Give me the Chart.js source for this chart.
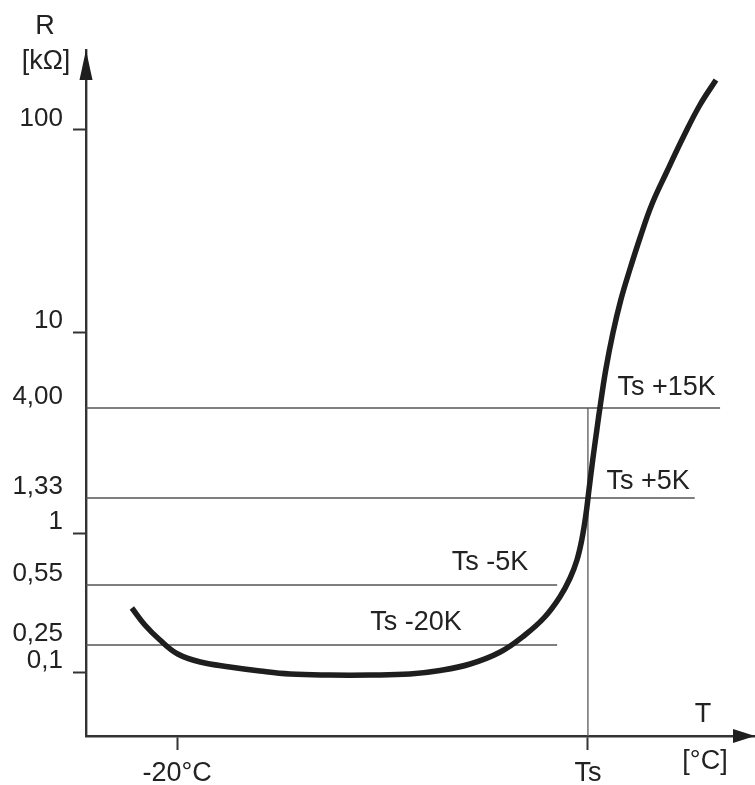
<!DOCTYPE html>
<html>
<head>
<meta charset="utf-8">
<script src="https://cdn.jsdelivr.net/npm/chart.js@4.4.1/dist/chart.umd.min.js"></script>
<style>
    body { margin: 0; background: #fff; }
    canvas { display: block; }
</style>
</head>
<body>
<canvas id="grafico-ptc" width="755" height="785"></canvas>
<script>
// Curva R(T) del termistor (eje Y en unidades de posición del esquema)
const tempCurva = [-26.6, -24.7, -22.5, -19.9, -16.6, -12.3, -7.9, -3.5, 2.3, 8.2, 14.0, 18.4, 22.8, 27.2, 30.8, 33.7, 35.9, 37.4, 38.4, 39.1, 39.7, 40.15, 40.7, 41.3, 41.75, 42.6, 43.65, 44.8, 46.1, 47.6, 49.3, 51.5, 54.0, 56.35, 58.7];
const resistCurva = [12.8, 11.1, 9.6, 8.2, 7.4, 6.9, 6.5, 6.2, 6.1, 6.1, 6.2, 6.55, 7.2, 8.4, 10.1, 11.9, 13.9, 15.8, 17.6, 19.6, 22.1, 24.6, 27.6, 30.6, 32.8, 36.6, 40.3, 43.6, 46.6, 49.8, 53.1, 56.4, 60.0, 63.1, 65.6];

// Marcas del eje Y (posición en el esquema y texto)
const yTickPos = [6.4, 9.1, 15.1, 20.3, 23.8, 32.8, 40.4, 60.6];
const yTickLabels = ['0,1', '0,25', '0,55', '1', '1,33', '4,00', '10', '100'];

// Marcas del eje X
const xTickPos = [-20, 40];
const xTickLabels = ['-20°C', 'Ts'];

// Líneas de referencia horizontales
const refNiveles = [32.8, 23.8, 15.1, 9.1];
const refFin = [59.3, 55.6, 35.5, 35.5];
const refEtiquetas = ['Ts +15K', 'Ts +5K', 'Ts -5K', 'Ts -20K'];

// Línea vertical en Ts
const tsTemp = 40;

const X_MIN = -33.3, X_MAX = 64.4;
const Y_MIN = 0, Y_MAX = 68.6;
const FUENTE = "'Liberation Sans', Arial, sans-serif";
const marcasConTick = ['100', '10', '1', '0,1'];

document.addEventListener('DOMContentLoaded', function () {
    const ctx = document.getElementById('grafico-ptc');

    const datasets = [{
        label: 'R(T)',
        data: tempCurva.map((t, i) => ({ x: t, y: resistCurva[i] })),
        borderColor: '#1e1e1e',
        borderWidth: 5.5,
        pointRadius: 0,
        tension: 0.4,
        borderCapStyle: 'butt'
    }];

    refNiveles.forEach((nivel, i) => {
        datasets.push({
            label: refEtiquetas[i],
            data: [{ x: X_MIN, y: nivel }, { x: refFin[i], y: nivel }],
            borderColor: '#555',
            borderWidth: 1.6,
            pointRadius: 0,
            tension: 0
        });
    });

    datasets.push({
        label: 'Ts',
        data: [{ x: tsTemp, y: Y_MIN }, { x: tsTemp, y: refNiveles[0] }],
        borderColor: '#666',
        borderWidth: 1.4,
        pointRadius: 0,
        tension: 0
    });

    // Flechas, títulos de ejes y etiquetas de las líneas
    const decoracion = {
        id: 'decoracion',
        afterDraw(chart) {
            const c = chart.ctx;
            const area = chart.chartArea;
            const sx = chart.scales.x, sy = chart.scales.y;
            c.save();
            c.fillStyle = '#1e1e1e';

            // flecha eje Y
            c.beginPath();
            c.moveTo(area.left, area.top);
            c.lineTo(area.left - 6.5, area.top + 30);
            c.lineTo(area.left + 6.5, area.top + 30);
            c.closePath();
            c.fill();

            // flecha eje X
            c.beginPath();
            c.moveTo(area.right, area.bottom);
            c.lineTo(area.right - 22, area.bottom - 7);
            c.lineTo(area.right - 22, area.bottom + 7);
            c.closePath();
            c.fill();

            c.font = '27px ' + FUENTE;
            c.fillStyle = '#222';
            c.textAlign = 'center';
            c.textBaseline = 'middle';
            c.fillText('R', 45, 27);
            c.fillText('[kΩ]', 46, 62);
            c.fillText('T', 703, 715);
            c.fillText('[°C]', 705, 762);

            // etiquetas de las líneas de referencia
            const posEtiquetas = [
                { x: 51.5, dy: -20 },
                { x: 48.8, dy: -16 },
                { x: 25.7, dy: -22 },
                { x: 14.9, dy: -22 }
            ];
            refEtiquetas.forEach((txt, i) => {
                c.fillText(txt, sx.getPixelForValue(posEtiquetas[i].x), sy.getPixelForValue(refNiveles[i]) + posEtiquetas[i].dy);
            });
            c.restore();
        }
    };

    const options = {
        responsive: false,
        animation: false,
        layout: { padding: { top: 50, left: 0, right: 0, bottom: 0 } },
        plugins: {
            legend: { display: false },
            tooltip: { enabled: false }
        },
        scales: {
            x: {
                type: 'linear',
                min: X_MIN,
                max: X_MAX,
                afterFit: function (scale) { scale.height = 49; },
                afterBuildTicks: function (scale) {
                    scale.ticks = xTickPos.map(v => ({ value: v }));
                },
                ticks: {
                    callback: function (value, index) { return xTickLabels[index]; },
                    color: '#222',
                    font: { family: FUENTE, size: 27 },
                    padding: 7,
                    maxRotation: 0,
                    autoSkip: false
                },
                grid: {
                    drawOnChartArea: false,
                    tickLength: 14,
                    tickColor: '#333',
                    tickWidth: 2
                },
                border: { color: '#333', width: 2.4 }
            },
            y: {
                type: 'linear',
                min: Y_MIN,
                max: Y_MAX,
                afterFit: function (scale) { scale.width = 86; },
                afterBuildTicks: function (scale) {
                    scale.ticks = yTickPos.map(v => ({ value: v }));
                },
                ticks: {
                    callback: function (value, index) { return yTickLabels[index]; },
                    color: '#222',
                    font: { family: FUENTE, size: 26 },
                    padding: 10,
                    labelOffset: -11,
                    autoSkip: false
                },
                grid: {
                    drawOnChartArea: false,
                    tickLength: 13,
                    tickWidth: 2,
                    tickColor: function (context) {
                        const idx = context.index;
                        return marcasConTick.includes(yTickLabels[idx]) ? '#333' : 'rgba(0,0,0,0)';
                    }
                },
                border: { color: '#333', width: 2.4 }
            }
        }
    };

    try {
        new Chart(ctx.getContext('2d'), {
            type: 'line',
            data: { datasets: datasets },
            options: options,
            plugins: [decoracion]
        });
        console.log('Gráfico PTC creado');
    } catch (error) {
        console.error('Error al crear el gráfico:', error);
    }
});
</script>
</body>
</html>
